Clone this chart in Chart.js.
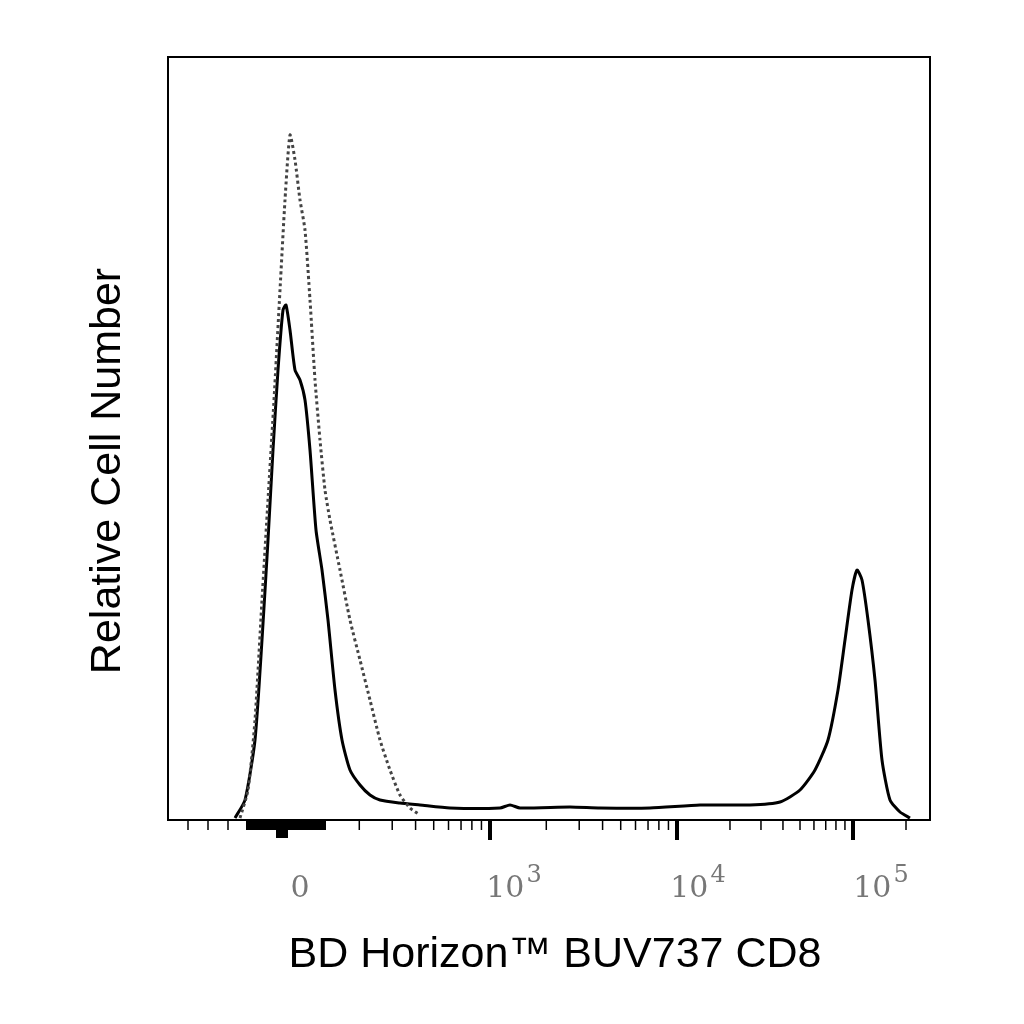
<!DOCTYPE html><html><head><script src="https://cdn.jsdelivr.net/npm/chart.js"></script>
<style>body{margin:0;background:#fff}#w{width:1024px;height:1024px}</style></head><body><div id="w"><canvas id="c"></canvas></div>
<script>
// x in display units (0..762), y in relative count units (0..763)
const solidX=[67,77,87,94,100,105,110,115,118,122,127,132,137,142,148,154,160,167,174,182,192,202,212,232,252,282,332,342,352,402,432,482,532,582,612,632,647,660,670,677,684,689,694,700,707,714,722,732,742];
const solidY=[2,20,80,180,280,370,450,510,515,490,450,440,420,370,290,250,200,130,80,50,35,25,20,17,15,12,12,15,12,13,12,12,15,15,18,30,50,80,130,180,230,250,240,200,140,60,20,8,2];
const dotX=[72,80,87,94,100,106,112,117,122,127,132,137,142,147,152,157,162,172,182,192,202,212,222,232,242,252];
const dotY=[2,30,100,220,320,420,530,620,685,660,620,590,520,440,380,330,300,250,200,160,120,80,50,25,12,5];
const tickLabels=[{v:132,b:"0",e:""},{v:345,b:"10",e:"3"},{v:529,b:"10",e:"4"},{v:712,b:"10",e:"5"}];
const majorTicks=[322,509,685];
const decadeStart=[135,322,509,685]; // 10^2..10^5
const linTicks=[20,40,60,80,100,120,140];
const xTitle="BD Horizon™ BUV737 CD8", yTitle="Relative Cell Number";
const pts=(xs,ys)=>xs.map((x,i)=>({x,y:ys[i]}));
const deco={id:'deco',afterDraw(ch){const c=ch.ctx,a=ch.chartArea,sx=ch.scales.x;c.save();
c.strokeStyle='#000';c.lineWidth=2;c.strokeRect(a.left,a.top,a.right-a.left,a.bottom-a.top);
const minor=[...linTicks];for(let d=0;d<3;d++){const s=decadeStart[d],e=decadeStart[d+1];for(let k=2;k<10;k++)minor.push(s+(e-s)*Math.log10(k));}
minor.push(738);
c.lineWidth=1.5;minor.forEach(v=>{const p=sx.getPixelForValue(v);c.beginPath();c.moveTo(p,a.bottom);c.lineTo(p,a.bottom+10);c.stroke();});
c.lineWidth=4;majorTicks.forEach(v=>{const p=sx.getPixelForValue(v);c.beginPath();c.moveTo(p,a.bottom);c.lineTo(p,a.bottom+20);c.stroke();});
c.fillStyle='#000';c.fillRect(sx.getPixelForValue(78),a.bottom,sx.getPixelForValue(158)-sx.getPixelForValue(78),10);
c.fillRect(sx.getPixelForValue(108),a.bottom,sx.getPixelForValue(120)-sx.getPixelForValue(108),18);
c.fillStyle='#777';c.textBaseline='alphabetic';
tickLabels.forEach(o=>{c.font='30px "DejaVu Serif"';const bw=c.measureText(o.b).width;c.font='24px "DejaVu Serif"';const ew=o.e?c.measureText(o.e).width:0;
const x0=sx.getPixelForValue(o.v)-(bw+ew)/2;c.font='30px "DejaVu Serif"';c.textAlign='left';c.fillText(o.b,x0,a.bottom+77);
if(o.e){c.font='24px "DejaVu Serif"';c.fillText(o.e,x0+bw+2,a.bottom+62);}});
c.fillStyle='#000';c.font='43px "Liberation Sans"';c.textAlign='center';c.textBaseline='middle';c.fillText(xTitle,555,955);
c.translate(108,471);c.rotate(-Math.PI/2);c.fillText(yTitle,0,0);c.restore();}};
new Chart(document.getElementById('c'),{type:'scatter',data:{datasets:[
{data:pts(dotX,dotY),showLine:true,borderColor:'#444',borderWidth:3,borderDash:[3,3],pointRadius:0,tension:0.2},
{data:pts(solidX,solidY),showLine:true,borderColor:'#000',borderWidth:3,pointRadius:0,tension:0.2}]},
options:{responsive:true,maintainAspectRatio:false,animation:false,layout:{padding:{left:168,right:94,top:57,bottom:204}},
plugins:{legend:{display:false},tooltip:{enabled:false}},
scales:{x:{type:'linear',min:0,max:762,display:false},y:{min:0,max:763,display:false}}},plugins:[deco]});
</script></body></html>
